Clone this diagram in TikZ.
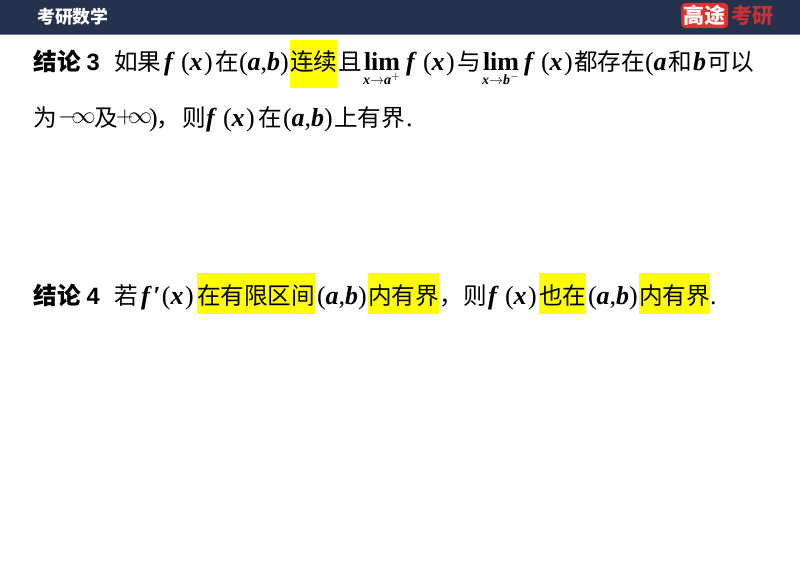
\documentclass[tikz,border=0pt]{standalone}
\usepackage{fontspec}
\usetikzlibrary{positioning}
\setmainfont{Liberation Serif}
\setsansfont{Liberation Sans}
\newfontfamily\cjk{Noto Sans CJK SC}
\definecolor{barblue}{HTML}{24324D}
\definecolor{barline}{HTML}{6F7A90}
\definecolor{logored}{HTML}{E0332F}
\definecolor{hlyellow}{HTML}{FFFF00}
\newcommand{\bi}[1]{\textbf{\textit{#1}}}
\newcommand{\fx}{\bi{f}\hspace{4.4pt}(\bi{x}\hspace{1pt})}
\newcommand{\ab}{(\bi{a},\bi{b})}
\tikzset{
	word/.style = {anchor=base west, inner sep=0pt, outer sep=0pt, font=\cjk\fontsize{16.8pt}{17pt}\selectfont},
	boldword/.style = {word, font=\cjk\bfseries\fontsize{16.8pt}{17pt}\selectfont},
	sym/.style = {anchor=base west, inner sep=0pt, outer sep=0pt, font=\fontsize{18.5pt}{18.5pt}\selectfont},
	infsym/.style = {anchor=base west, inner sep=0pt, outer sep=0pt, font=\fontsize{16pt}{16pt}\selectfont},
	limsub/.style = {anchor=base west, inner sep=0pt, outer sep=0pt, font=\bfseries\fontsize{10pt}{10pt}\selectfont},
	hlA/.style = {word, fill=hlyellow, text height=22pt, text depth=12.1pt},
	hlB/.style = {word, fill=hlyellow, text height=22.8pt, text depth=6.4pt}
}
\begin{document}
\begin{tikzpicture}[x=0.7113pt, y=-0.7113pt]
	\useasboundingbox (0,0) rectangle (800,566);
	% top bar
	\fill[barblue] (0,0) rectangle (800,34);
	\fill[barline] (0,34) rectangle (800,35);
	\node[anchor=west, inner sep=0pt, text=white, font=\cjk\bfseries\fontsize{12.7pt}{12.7pt}\selectfont] (brand) at (37,17) {考研数学};
	\node[anchor=west, fill=logored, rounded corners=3pt, minimum width=33.4pt, minimum height=17.8pt, inner sep=0pt, text=white, font=\cjk\bfseries\fontsize{15pt}{15pt}\selectfont] (logo) at (681,15.5) {高途};
	\node[anchor=west, inner sep=0pt, text=logored!85!barblue, font=\cjk\bfseries\fontsize{15pt}{15pt}\selectfont] (logotext) at (731,15.5) {考研};
	% conclusion 3, first line
	\node[boldword] (jielunA) at (34,71) {结论 {\sffamily 3}};
	\node[word] (ruguo) at (114,71) {如果};
	\node[sym] (fxA) at (164,71) {\fx};
	\node[word] (zaiA) at (215,71) {在};
	\node[sym] (abA) at (239,71) {\ab};
	\node[hlA] (lianxu) at (290,71) {连续};
	\node[word] (qie) at (338,71) {且};
	\node[sym] (limA) at (364,71) {\textbf{lim}};
	\node[limsub] (subA) at (363,85) {\textit{x}$\rightarrow$\textit{a}$^{+}$};
	\node[sym] (fxB) at (406,71) {\fx};
	\node[word] (yu) at (457,71) {与};
	\node[sym] (limB) at (483,71) {\textbf{lim}};
	\node[limsub] (subB) at (482,85) {\textit{x}$\rightarrow$\textit{b}$^{-}$};
	\node[sym] (fxC) at (524,71) {\fx};
	\node[word] (dou) at (574,71) {都存在};
	\node[sym] (paren) at (645,71) {(\bi{a}};
	\node[word] (he) at (668,71) {和};
	\node[sym] (bb) at (693,71) {\bi{b}};
	\node[word] (keyi) at (707,71) {可以};
	% conclusion 3, second line
	\node[word] (wei) at (34,127) {为};
	\node[infsym] (minf) at (58,124) {$-$\hspace{-4pt}$\infty$};
	\node[word] (ji) at (94,127) {及};
	\node[infsym] (pinf) at (116,124) {$+$\hspace{-4pt}$\infty$};
	\node[sym] (close) at (149,127) {)};
	\node[word] (comA) at (156,127) {，};
	\node[word] (ze) at (182,127) {则};
	\node[sym] (fxD) at (206,127) {\fx};
	\node[word] (zaiB) at (258,127) {在};
	\node[sym] (abB) at (283,127) {\ab};
	\node[word] (shang) at (334,127) {上有界};
	\node[sym] (dotA) at (406,127) {.};
	% conclusion 4
	\node[boldword] (jielunB) at (34,305) {结论 {\sffamily 4}};
	\node[word] (ruo) at (114,305) {若};
	\node[sym] (fprime) at (141,305) {\bi{f}\hspace{1pt}\bi{′}\hspace{1pt}(\bi{x}\hspace{1pt})};
	\node[hlB] (zaiyou) at (197,305) {在有限区间};
	\node[sym] (abC) at (317,305) {\ab};
	\node[hlB] (neiA) at (368,305) {内有界};
	\node[word] (comB) at (439,305) {，};
	\node[word] (zeB) at (463,305) {则};
	\node[sym] (fxE) at (488,305) {\fx};
	\node[hlB] (yezai) at (539,305) {也在};
	\node[sym] (abD) at (588,305) {\ab};
	\node[hlB] (neiB) at (639,305) {内有界};
	\node[sym] (dotB) at (710,305) {.};
\end{tikzpicture}
\end{document}
